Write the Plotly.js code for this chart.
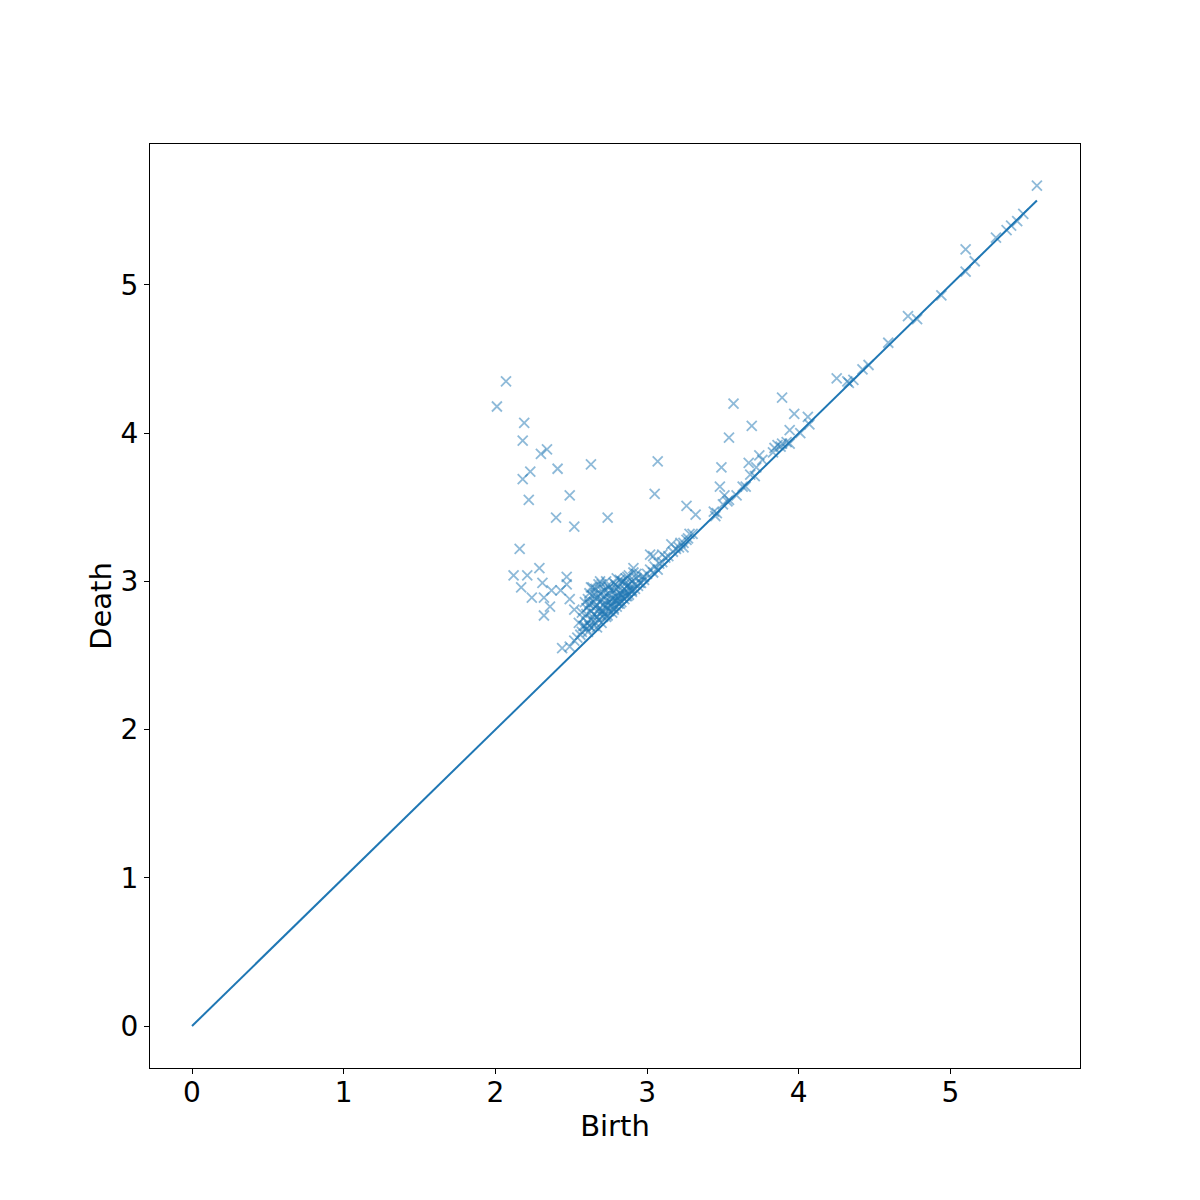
<!DOCTYPE html>
<html>
<head>
<meta charset="utf-8">
<script src="https://cdn.plot.ly/plotly-3.0.1.min.js"></script>
<style>html,body{margin:0;padding:0;background:#fff;}#chart{width:1200px;height:1200px;}</style>
</head>
<body>
<div id="chart"></div>
<script>
// Persistence diagram points (birth, death)
const birth = [
  2.07,2.01,2.19,2.18,2.30,2.34,2.23,2.18,2.41,2.63,3.07,3.05,2.22,2.49,2.40,2.52,2.74,2.16,
  2.12,2.21,2.29,2.17,2.31,2.24,2.32,2.37,2.43,2.47,2.47,2.49,2.36,2.32,2.52,2.44,2.49,
  2.52,2.54,2.56,2.57,2.58,2.60,2.61,2.62,2.63,2.65,2.66,2.67,2.68,2.70,2.71,2.72,2.74,2.75,2.77,2.78,2.80,2.81,2.83,2.85,2.86,2.88,2.90,2.92,2.94,2.96,2.98,
  2.60,2.61,2.62,2.62,2.63,2.64,2.65,2.66,2.66,2.67,2.68,2.69,2.69,2.70,2.71,2.72,2.72,2.73,2.74,2.75,2.75,2.76,2.77,2.78,2.79,2.80,2.80,2.81,2.82,2.83,2.84,2.85,2.86,2.87,2.88,2.89,2.90,2.91,2.92,2.60,2.58,2.59,2.57,2.55,2.64,2.70,2.76,2.82,2.68,2.73,2.79,2.64,
  2.91,2.93,2.98,2.87,2.82,2.95,2.90,2.87,2.82,2.78,2.73,2.69,2.76,
  2.61,2.63,2.65,2.67,2.69,2.71,2.73,2.75,2.77,2.79,2.81,2.83,2.85,2.87,2.89,2.62,2.66,2.70,2.74,2.78,2.84,2.88,2.93,2.59,2.63,2.67,2.71,2.80,2.86,2.97,
  3.00,3.02,3.04,3.05,3.08,3.10,3.12,3.14,3.17,3.19,3.21,3.24,3.27,3.30,3.02,3.04,3.16,3.10,3.07,3.22,3.24,3.26,
  3.26,3.32,3.44,3.46,3.45,3.28,3.50,3.53,3.48,3.51,3.59,3.54,3.65,3.49,3.54,3.57,3.69,3.63,
  3.67,3.68,3.71,3.72,3.74,3.76,3.83,3.84,3.86,3.88,3.89,3.92,3.94,4.01,3.94,4.07,3.97,4.06,3.89,
  4.25,4.32,4.33,4.36,4.42,4.46,4.59,4.72,4.78,4.94,5.10,5.10,5.16,5.30,5.37,5.40,5.44,5.48,5.57
];
const death = [
  4.35,4.18,4.07,3.95,3.86,3.89,3.74,3.69,3.76,3.79,3.81,3.59,3.55,3.58,3.43,3.37,3.43,3.22,
  3.04,3.04,3.09,2.96,2.99,2.89,2.89,2.94,2.94,3.03,2.98,2.88,2.83,2.77,2.81,2.55,2.56,
  2.60,2.62,2.64,2.66,2.70,2.68,2.72,2.70,2.69,2.70,2.72,2.69,2.74,2.72,2.76,2.78,2.77,2.80,2.79,2.82,2.83,2.85,2.86,2.88,2.90,2.91,2.93,2.95,2.97,2.99,3.01,
  2.82,2.88,2.92,2.85,2.80,2.90,2.86,2.83,2.95,2.89,2.81,2.92,2.86,2.98,2.84,2.90,2.94,2.87,2.82,2.92,2.96,2.88,2.85,2.94,2.90,3.02,2.87,2.96,2.92,3.00,2.89,2.95,3.02,2.93,2.98,2.96,3.00,3.06,2.98,2.78,2.75,2.86,2.79,2.72,2.76,2.80,2.83,2.88,2.98,3.00,2.98,2.96,
  3.09,3.05,3.03,3.03,3.01,2.99,2.94,2.90,2.85,2.81,2.76,3.00,2.94,
  2.66,2.74,2.78,2.76,2.78,2.80,2.84,2.86,2.88,2.87,2.90,2.91,2.93,2.97,2.94,2.84,2.91,2.88,2.97,2.99,3.00,3.04,3.02,2.70,2.96,2.84,2.93,2.95,2.99,3.03,
  3.05,3.08,3.06,3.10,3.12,3.13,3.16,3.17,3.20,3.22,3.23,3.26,3.29,3.32,3.18,3.17,3.25,3.18,3.08,3.26,3.23,3.28,
  3.51,3.45,3.47,3.46,3.44,3.32,3.52,3.54,3.64,3.58,3.58,3.55,3.64,3.77,3.97,4.20,4.05,3.64,
  3.80,3.72,3.71,3.77,3.85,3.82,3.87,3.90,3.92,3.91,3.93,3.94,3.93,4.00,4.02,4.06,4.13,4.11,4.24,
  4.37,4.35,4.34,4.36,4.43,4.46,4.61,4.79,4.77,4.93,5.09,5.24,5.16,5.32,5.37,5.40,5.43,5.48,5.67
];
// Diagonal reference line endpoints
const diagX = [0, 5.57];
const diagY = [0, 5.57];

const xTicks = [0,1,2,3,4,5];
const yTicks = [0,1,2,3,4,5];

const blue = '#1f77b4';
const traces = [
  {
    x: birth, y: death, type: 'scatter', mode: 'markers',
    marker: {symbol: 'x-thin', size: 10, opacity: 0.5, color: blue, line: {color: blue, width: 1.8}},
    hoverinfo: 'x+y', showlegend: false
  },
  {
    x: diagX, y: diagY, type: 'scatter', mode: 'lines',
    line: {color: blue, width: 2}, showlegend: false
  }
];

const TFS = 28;
const LFS = 29;
const axisCommon = {
  showgrid: false, zeroline: false, showline: true, mirror: true,
  linecolor: '#000', linewidth: 1, ticks: 'outside', ticklen: 5, tickwidth: 1, tickcolor: '#000',
  tickfont: {family: 'DejaVu Sans', size: TFS, color: '#000'}
};

const layout = {
  width: 1200, height: 1200,
  margin: {l: 150, r: 120, t: 144, b: 132},
  paper_bgcolor: '#fff', plot_bgcolor: '#fff',
  font: {family: 'DejaVu Sans', color: '#000'},
  xaxis: Object.assign({}, axisCommon, {
    range: [-0.277, 5.854], tickvals: xTicks, ticktext: xTicks.map(String),
    ticklabelstandoff: -6,
    title: {text: 'Birth', font: {family: 'DejaVu Sans', size: LFS, color: '#000'}, standoff: 4}
  }),
  yaxis: Object.assign({}, axisCommon, {
    range: [-0.283, 5.951], tickvals: yTicks, ticktext: yTicks.map(String),
    title: {text: 'Death', font: {family: 'DejaVu Sans', size: LFS, color: '#000'}, standoff: 0}
  })
};

Plotly.newPlot('chart', traces, layout, {displayModeBar: false, staticPlot: true});
</script>
</body>
</html>
